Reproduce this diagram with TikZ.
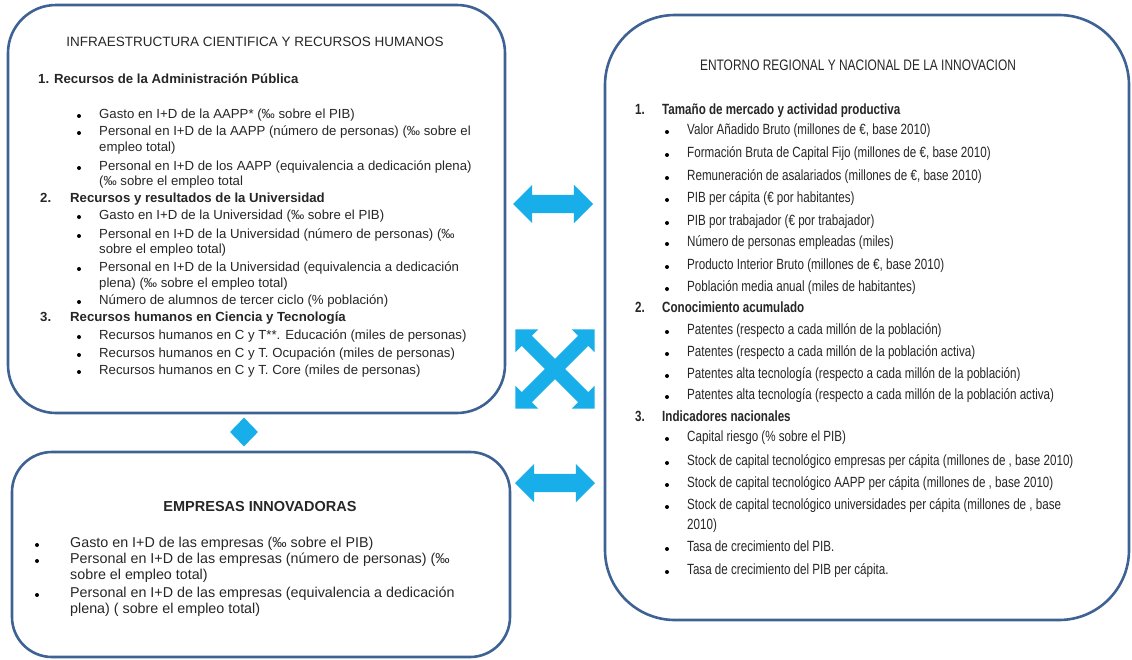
\documentclass[tikz,border=0pt]{standalone}
\usepackage{fontspec}
\setmainfont{Liberation Sans}
\newfontfamily\narrowsans[FakeStretch=0.785]{Liberation Sans}
\usetikzlibrary{shapes.geometric,shapes.arrows}
\definecolor{frameblue}{RGB}{62,98,148}
\definecolor{flowcyan}{RGB}{24,174,234}
\definecolor{inkgray}{RGB}{38,38,38}

\tikzset{
  panel/.style={draw=frameblue,line width=2.6pt,rectangle,rounded corners=#1},
  panel/.default=50pt,
  lft/.style={anchor=west,inner sep=0pt,text height=9pt,text depth=3pt,
    text=inkgray,font=\fontsize{13.2}{15}\selectfont},
  lfthead/.style={lft,font=\bfseries\fontsize{13.2}{15}\selectfont},
  emp/.style={lft,font=\fontsize{14.3}{16}\selectfont},
  rgt/.style={lft,font=\narrowsans\fontsize{14.8}{17}\selectfont},
  rgthead/.style={lft,font=\narrowsans\bfseries\fontsize{14.8}{17}\selectfont},
  dot/.style={circle,fill=black,inner sep=0pt,minimum size=4pt},
  twoway/.style={double arrow,fill=flowcyan,draw=none,inner xsep=0pt,
    inner ysep=9pt,double arrow head extend=10pt,minimum height=80pt},
  crossway/.style={twoway,inner ysep=7pt,double arrow head extend=9pt,minimum height=112pt}
}

\begin{document}
\begin{tikzpicture}[x=1pt,y=-1pt]
  \useasboundingbox (0,0) rectangle (1132,659);
  % frames
  \node[panel=48pt,minimum width=497pt,minimum height=408pt] (infra) at (256.5,209) {};
  \node[panel=40pt,minimum width=498pt,minimum height=205pt] (empresas) at (261,554.5) {};
  \node[panel=70pt,minimum width=524pt,minimum height=605pt] (entorno) at (867,317.5) {};

  % links between the frames
  \node[twoway] (infra-entorno) at (553,204) {};
  \node[crossway,rotate=45] (cross-a) at (555,369) {};
  \node[crossway,rotate=-45] (cross-b) at (555,369) {};
  \node[twoway] (empresas-entorno) at (555,483) {};
  \node[diamond,fill=flowcyan,inner sep=0pt,minimum width=28pt,minimum height=29pt] (infra-empresas) at (244,432) {};

  % infraestructura
  \node[lft,anchor=center,font=\fontsize{13.5}{15}\selectfont] (infra-title) at (255,43) {INFRAESTRUCTURA CIENTIFICA Y RECURSOS HUMANOS};
  \node[lfthead] (h1) at (38,80) {1. Recursos de la Administración Pública};
  \node[lfthead] (h2-num) at (40,199) {2.};
  \node[lfthead] (h2) at (70,199) {Recursos y resultados de la Universidad};
  \node[lfthead] (h3-num) at (40,318) {3.};
  \node[lfthead] (h3) at (70,318) {Recursos humanos en Ciencia y Tecnología};
  \foreach \nm/\yy/\bul/\txt in {
    a1/115/1/{Gasto en I+D de la AAPP* (‰ sobre el PIB)},
    a2/132/1/{Personal en I+D de la AAPP (número de personas) (‰ sobre el},
    a3/148/0/{empleo total)},
    a4/167/1/{Personal en I+D de los AAPP (equivalencia a dedicación plena)},
    a5/182/0/{(‰ sobre el empleo total},
    b1/216/1/{Gasto en I+D de la Universidad (‰ sobre el PIB)},
    b2/235/1/{Personal en I+D de la Universidad (número de personas) (‰},
    b3/250/0/{sobre el empleo total)},
    b4/268/1/{Personal en I+D de la Universidad (equivalencia a dedicación},
    b5/284/0/{plena) (‰ sobre el empleo total)},
    b6/301/1/{Número de alumnos de tercer ciclo (\% población)},
    c1/336/1/{Recursos humanos en C y T**. Educación (miles de personas)},
    c2/354/1/{Recursos humanos en C y T. Ocupación (miles de personas)},
    c3/371/1/{Recursos humanos en C y T. Core (miles de personas)}}
  {
    \node[lft] (\nm) at (99,\yy) {\txt};
    \ifnum\bul=1 \node[dot] (\nm-dot) at (79,\yy+1) {};\fi
  }

  % empresas
  \node[lft,anchor=center,font=\bfseries\fontsize{14.5}{16}\selectfont] (empresas-title) at (260,508) {EMPRESAS INNOVADORAS};
  \foreach \nm/\yy/\bul/\txt in {
    e1/544/1/{Gasto en I+D de las empresas (‰ sobre el PIB)},
    e2/560/1/{Personal en I+D de las empresas (número de personas) (‰},
    e3/576/0/{sobre el empleo total)},
    e4/594/1/{Personal en I+D de las empresas (equivalencia a dedicación},
    e5/610/0/{plena) ( sobre el empleo total)}}
  {
    \node[emp] (\nm) at (70,\yy) {\txt};
    \ifnum\bul=1 \node[dot] (\nm-dot) at (37,\yy+1) {};\fi
  }

  % entorno
  \node[rgt,anchor=center,font=\narrowsans\fontsize{15.2}{17}\selectfont] (entorno-title) at (858,67) {ENTORNO REGIONAL Y NACIONAL DE LA INNOVACION};
  \node[rgthead] (r1-num) at (635,111) {1.};
  \node[rgthead] (r1) at (662,111) {Tamaño de mercado y actividad productiva};
  \node[rgthead] (r2-num) at (635,309) {2.};
  \node[rgthead] (r2) at (662,309) {Conocimiento acumulado};
  \node[rgthead] (r3-num) at (635,418) {3.};
  \node[rgthead] (r3) at (662,418) {Indicadores nacionales};
  \foreach \nm/\yy/\bul/\txt in {
    m1/131/1/{Valor Añadido Bruto (millones de €, base 2010)},
    m2/154/1/{Formación Bruta de Capital Fijo (millones de €, base 2010)},
    m3/177/1/{Remuneración de asalariados (millones de €, base 2010)},
    m4/199/1/{PIB per cápita (€ por habitantes)},
    m5/222/1/{PIB por trabajador (€ por trabajador)},
    m6/243/1/{Número de personas empleadas (miles)},
    m7/266/1/{Producto Interior Bruto (millones de €, base 2010)},
    m8/288/1/{Población media anual (miles de habitantes)},
    k1/331/1/{Patentes (respecto a cada millón de la población)},
    k2/353/1/{Patentes (respecto a cada millón de la población activa)},
    k3/375/1/{Patentes alta tecnología (respecto a cada millón de la población)},
    k4/396/1/{Patentes alta tecnología (respecto a cada millón de la población activa)},
    n1/438/1/{Capital riesgo (\% sobre el PIB)},
    n2/462/1/{Stock de capital tecnológico empresas per cápita (millones de , base 2010)},
    n3/484/1/{Stock de capital tecnológico AAPP per cápita (millones de , base 2010)},
    n4/506/1/{Stock de capital tecnológico universidades per cápita (millones de , base},
    n5/526/0/{2010)},
    n6/548/1/{Tasa de crecimiento del PIB.},
    n7/571/1/{Tasa de crecimiento del PIB per cápita.}}
  {
    \node[rgt] (\nm) at (687,\yy) {\txt};
    \ifnum\bul=1 \node[dot] (\nm-dot) at (667,\yy+1) {};\fi
  }
\end{tikzpicture}
\end{document}
